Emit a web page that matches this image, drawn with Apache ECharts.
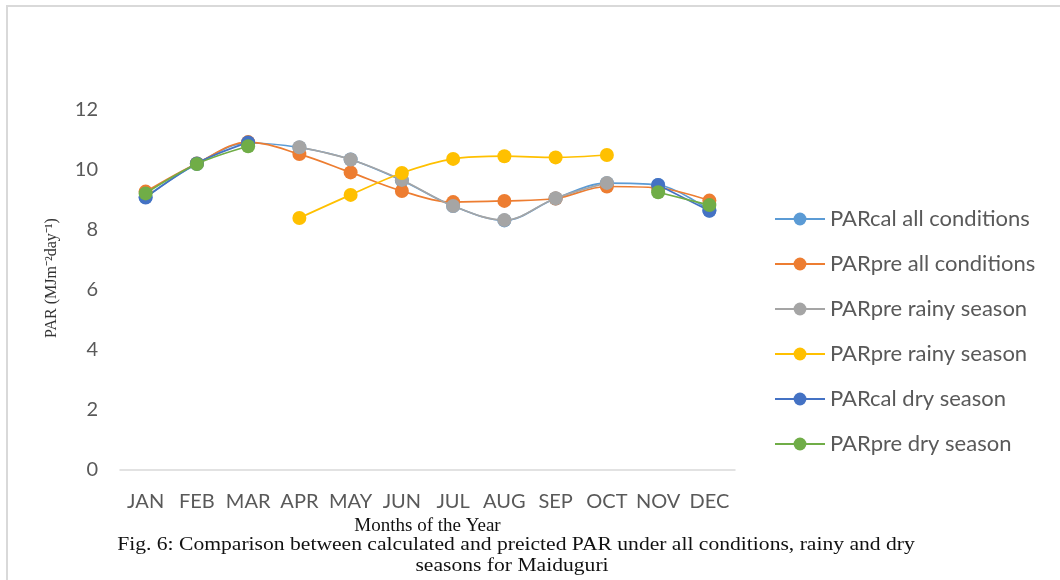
<!DOCTYPE html>
<html>
<head>
<meta charset="utf-8">
<script src="https://cdn.jsdelivr.net/npm/echarts@6/dist/echarts.min.js"></script>
<style>html,body{margin:0;padding:0;background:#fff;}#chart{width:1060px;height:580px;}</style>
</head>
<body>
<div id="chart"></div>
<script>
var months = ['JAN','FEB','MAR','APR','MAY','JUN','JUL','AUG','SEP','OCT','NOV','DEC'];
var yTicks = [0, 2, 4, 6, 8, 10, 12];
var seriesNames = ['PARcal all conditions','PARpre all conditions','PARpre rainy season','PARpre rainy season ','PARcal dry season','PARpre dry season'];
var parCalAll   = [9.10, 10.20, 10.90, 10.75, 10.35, 9.65, 8.80, 8.32, 9.05, 9.56, 9.50, 8.65];
var parPreAll   = [9.28, 10.22, 10.93, 10.53, 9.92, 9.30, 8.93, 8.97, 9.05, 9.45, 9.40, 8.98];
var parPreRainyGray   = [null, null, null, 10.76, 10.35, 9.67, 8.80, 8.33, 9.06, 9.57, null, null];
var parPreRainyYellow = [null, null, null, 8.40, 9.17, 9.90, 10.37, 10.46, 10.42, 10.50, null, null];
var parCalDry   = [9.08, 10.22, 10.92, null, null, null, null, null, null, null, 9.50, 8.64];
var parPreDry   = [9.22, 10.20, 10.79, null, null, null, null, null, null, null, 9.26, 8.83];
var captionLines = ['Fig. 6: Comparison between calculated and preicted PAR under all conditions, rainy and dry', 'seasons for Maiduguri'];
var colors = ['#5B9BD5','#ED7D31','#A5A5A5','#FFC000','#4472C4','#70AD47'];

var dataSets = [parCalAll, parPreAll, parPreRainyGray, parPreRainyYellow, parCalDry, parPreDry];
var chart = echarts.init(document.getElementById('chart'), null, {renderer: 'canvas'});
var series = dataSets.map(function (d, i) {
  return {
    name: seriesNames[i],
    type: 'line',
    data: d,
    smooth: 0.35,
    connectNulls: false,
    symbol: 'circle',
    symbolSize: 14,
    showAllSymbol: true,
    lineStyle: {color: colors[i], width: 1.7},
    itemStyle: {color: colors[i]},
    emphasis: {disabled: true},
    z: 2 + i
  };
});
var option = {
  animation: false,
  backgroundColor: '#ffffff',
  color: colors,
  graphic: [{
    type: 'rect',
    silent: true,
    shape: {x: 7, y: 6, width: 1070, height: 600},
    style: {fill: 'none', stroke: '#d9d9d9', lineWidth: 2}
  }, {
    type: 'text',
    silent: true,
    x: 516, y: 545, scaleX: 1.2,
    style: {text: captionLines[0], font: '18px "Liberation Serif"', fill: '#111', textAlign: 'center', textVerticalAlign: 'middle'}
  }, {
    type: 'text',
    silent: true,
    x: 512, y: 566, scaleX: 1.2,
    style: {text: captionLines[1], font: '18px "Liberation Serif"', fill: '#111', textAlign: 'center', textVerticalAlign: 'middle'}
  }],
  legend: {
    orient: 'vertical',
    left: 769,
    top: 203,
    itemWidth: 50,
    itemHeight: 16,
    itemGap: 23,
    textStyle: {fontFamily: 'Lato', fontSize: 22, color: '#595959'},
    data: seriesNames.map(function (n, i) {
      return {name: n, itemStyle: {color: colors[i]}};
    })
  },
  grid: {left: 120, right: 325, top: 110, bottom: 110, containLabel: false},
  xAxis: {
    type: 'category',
    data: months,
    boundaryGap: true,
    name: 'Months of the Year',
    nameLocation: 'middle',
    nameGap: 44,
    nameTextStyle: {fontFamily: 'Liberation Serif', fontSize: 19, color: '#111'},
    axisLine: {show: true, lineStyle: {color: '#d9d9d9', width: 1.5}},
    axisTick: {show: false},
    axisLabel: {fontFamily: 'Lato', fontSize: 20, color: '#595959', margin: 22, interval: 0},
    splitLine: {show: false}
  },
  yAxis: {
    type: 'value',
    min: yTicks[0],
    max: yTicks[yTicks.length - 1],
    interval: 2,
    name: 'PAR (MJm\u207B\u00B2day\u207B\u00B9)',
    nameLocation: 'middle',
    nameGap: 60,
    nameRotate: 90,
    nameTextStyle: {fontFamily: 'Liberation Serif', fontSize: 16, color: '#333', padding: [0,0,0,24]},
    axisLine: {show: false},
    axisTick: {show: false},
    axisLabel: {fontFamily: 'Lato', fontSize: 20, color: '#595959', margin: 22},
    splitLine: {show: false}
  },
  series: series
};
chart.setOption(option);
</script>
</body>
</html>
